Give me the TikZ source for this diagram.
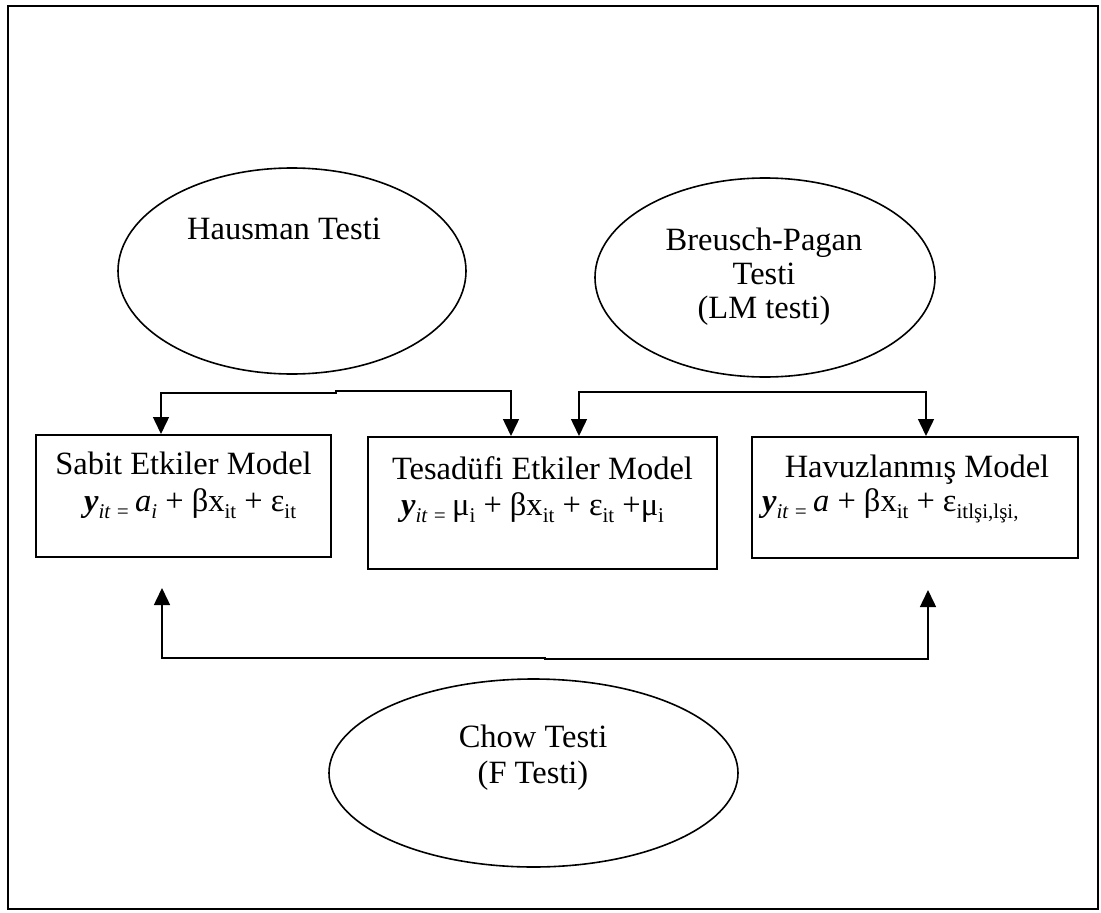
\documentclass[tikz,border=0pt]{standalone}
\usepackage{fontspec}
\setmainfont{Liberation Serif}
\usetikzlibrary{arrows.meta,shapes.geometric}
\newcommand\sbx[1]{\raisebox{-0.22em}{\fontsize{21}{21}\selectfont #1}}
\begin{document}
\begin{tikzpicture}[x=1pt,y=-1pt,
  txt/.style={font=\fontsize{32.5}{37}\selectfont, inner sep=0pt, anchor=base},
  ell/.style={draw, ellipse, line width=1.6pt, inner sep=0pt},
  modelbox/.style={draw, rectangle, line width=2pt, inner sep=0pt},
  link/.style={line width=1.5pt, {Triangle[length=17pt,width=16pt]}-{Triangle[length=17pt,width=16pt]}}]
\useasboundingbox (0,0) rectangle (1101,913);
\draw[line width=2pt] (8,6) rectangle (1098,909);

% ellipses
\node[ell, minimum width=348pt, minimum height=206pt] (haus) at (292,271) {};
\node[ell, minimum width=340pt, minimum height=199pt] (bp) at (765,277.5) {};
\node[ell, minimum width=409pt, minimum height=188pt] (chow) at (533.5,773) {};

\node[txt] (haust) at (284,239) {Hausman Testi};
\node[txt] (bpt1) at (764,250) {Breusch-Pagan};
\node[txt] (bpt2) at (764,284) {Testi};
\node[txt] (bpt3) at (764,318) {(LM testi)};
\node[txt] (chowt1) at (533,747) {Chow Testi};
\node[txt] (chowt2) at (533,783) {(F Testi)};

% boxes
\node[modelbox, minimum width=295pt, minimum height=122pt] (sabit) at (183.5,496) {};
\node[modelbox, minimum width=349pt, minimum height=132pt] (tes) at (542.5,503) {};
\node[modelbox, minimum width=326pt, minimum height=121pt] (hav) at (915,497.5) {};

\node[txt] (sabitt) at (183.5,474) {Sabit Etkiler Model};
\node[txt, anchor=base west] (sabitf) at (84,511) {{\bfseries\itshape y}\sbx{\itshape it =}\,{\itshape a}\sbx{\itshape i} + βx\sbx{it} + ε\sbx{it}};
\node[txt] (test) at (542.5,479) {Tesadüfi Etkiler Model};
\node[txt, anchor=base west] (tesf) at (401,515) {{\bfseries\itshape y}\sbx{\itshape it =}\,μ\sbx{i} + βx\sbx{it} + ε\sbx{it} +μ\sbx{i}};
\node[txt] (havt) at (917,477) {Havuzlanmış Model};
\node[txt, anchor=base west] (havf) at (762,511) {{\bfseries\itshape y}\sbx{\itshape it =}\,{\itshape a} + βx\sbx{it} + ε\sbx{itlşi,lşi,}};

% connectors
\coordinate (hL) at (161,393);
\coordinate (hM1) at (336,393);
\coordinate (hM2) at (336,391);
\coordinate (hR) at (511,391);
\draw[link] (hL |- sabit.north) -- (hL) -- (hM1) -- (hM2) -- (hR) -- (hR |- tes.north);

\coordinate (bL) at (579,392);
\coordinate (bR) at (926,392);
\draw[link] (bL |- tes.north) -- (bL) -- (bR) -- (bR |- hav.north);

\coordinate (cLt) at (162,588);
\coordinate (cL) at (162,658);
\coordinate (cM1) at (545,658);
\coordinate (cM2) at (545,659);
\coordinate (cR) at (928,659);
\coordinate (cRt) at (928,590);
\draw[link] (cLt) -- (cL) -- (cM1) -- (cM2) -- (cR) -- (cRt);
\end{tikzpicture}
\end{document}
